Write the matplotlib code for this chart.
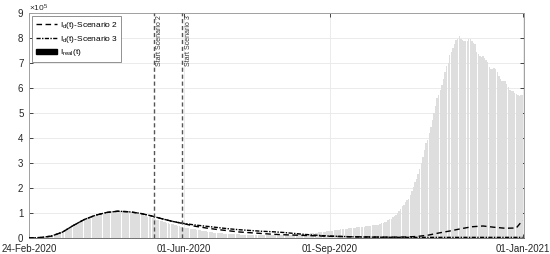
import numpy as np
import pandas as pd
import matplotlib
matplotlib.use("Agg")
from matplotlib import pyplot as plt
import matplotlib.dates as mdates
from matplotlib.lines import Line2D
from matplotlib.patches import Patch

plt.rcParams['font.family'] = ['Liberation Sans', 'DejaVu Sans']
plt.rcParams['mathtext.fontset'] = 'custom'
plt.rcParams['mathtext.rm'] = 'Liberation Sans'
plt.rcParams['mathtext.it'] = 'Liberation Sans:italic'

# I_real(t), daily active cases in thousands, 24-Feb-2020 .. 01-Jan-2021
real_feb = [0.2, 0.3, 0.4, 0.5, 0.9, 1.0]
real_mar = [1.6, 1.8, 2.3, 2.7, 3.1, 3.9, 5.1, 6.4, 7.4, 8.5, 10.6, 12.8, 14.9, 18.0, 20.6, 23.1,
            26.1, 28.7, 33.2, 37.9, 42.7, 46.6, 50.4, 54.0, 57.5, 62.0, 66.4, 70.1, 73.9, 75.5, 77.6]
real_apr = [80.6, 83.0, 85.4, 88.3, 91.2, 93.2, 94.1, 95.3, 96.9, 98.3, 100.3, 102.3, 103.6, 104.3, 105.4,
            106.6, 106.9, 108.0, 108.3, 108.2, 107.7, 107.7, 106.8, 106.5, 105.8, 106.1, 105.2, 105.2, 104.7, 101.6]
real_may = [100.9, 100.2, 100.2, 99.0, 98.5, 91.5, 89.6, 87.9, 84.8, 83.3, 82.5, 81.3, 78.5, 76.4, 72.1, 70.2,
            68.4, 66.6, 65.1, 62.8, 60.9, 59.3, 57.8, 56.6, 55.3, 52.9, 50.9, 47.9, 47.0, 43.7, 42.1]
real_jun = [41.4, 40.0, 39.3, 39.0, 37.0, 35.9, 35.3, 34.7, 32.9, 31.7, 30.6, 29.2, 28.0, 27.5, 26.3,
            25.9, 24.6, 23.1, 22.4, 21.0, 20.6, 20.2, 19.6, 18.7, 18.3, 17.6, 17.0, 16.8, 16.5, 15.6]
real_jul = [15.3, 15.1, 14.9, 14.6, 14.6, 14.2, 13.6, 13.5, 13.4, 13.3, 13.2, 13.2, 13.2, 13.0, 12.5, 12.4,
            12.5, 12.4, 12.3, 12.2, 12.4, 12.4, 12.3, 12.3, 12.5, 12.6, 12.6, 12.3, 12.2, 12.4, 12.6]
real_aug = [12.5, 12.6, 12.5, 12.5, 12.6, 13.3, 13.2, 13.8, 14.1, 14.1, 14.4, 14.6, 14.9, 15.1, 15.4, 16.0,
            16.7, 17.0, 17.5, 18.4, 19.1, 19.7, 20.8, 21.6, 22.7, 23.0, 24.0, 24.9, 25.0, 26.0, 26.8]
real_sep = [27.8, 28.8, 29.8, 30.1, 30.8, 32.0, 33.8, 34.8, 35.4, 35.7, 36.8, 37.4, 38.8, 39.7, 39.7,
            41.4, 41.8, 42.5, 43.2, 43.8, 44.1, 45.4, 45.5, 46.2, 46.1, 47.0, 48.6, 50.1, 51.3, 51.3]
real_oct = [51.3, 53.6, 55.5, 58.9, 60.1, 62.6, 65.0, 70.1, 74.8, 77.5, 83.0, 87.2, 93.3, 99.3, 106.8, 116.9,
            126.2, 132.9, 142.7, 150.0, 155.9, 170.1, 186.0, 202.0, 222.2, 236.7, 255.1, 276.5, 299.2, 325.8, 351.4]
real_nov = [378.1, 390.3, 418.1, 443.2, 472.3, 499.0, 527.0, 558.6, 573.1, 590.1, 613.4, 635.1, 663.5, 688.4, 701.8,
            733.8, 743.2, 760.7, 776.1, 791.7, 795.7, 805.9, 796.8, 790.4, 789.3, 788.5, 786.3, 796.0, 795.8, 788.0]
real_dec = [781.7, 777.2, 745.7, 737.5, 726.4, 722.9, 727.4, 720.7, 712.7, 705.2, 684.9, 675.1, 674.8, 679.2, 675.1,
            663.9, 647.0, 636.4, 627.7, 627.9, 629.0, 614.7, 603.2, 591.1, 589.5, 587.6, 579.1, 575.7, 572.4, 568.7, 570.0]
real_jan = [570.0]

# I_d(t) model curves, weekly, in thousands
model_dates = ['2020-02-24', '2020-03-02', '2020-03-09', '2020-03-16', '2020-03-23', '2020-03-30',
               '2020-04-06', '2020-04-13', '2020-04-20', '2020-04-27', '2020-05-04', '2020-05-11',
               '2020-05-18', '2020-05-25', '2020-06-01', '2020-06-08', '2020-06-15', '2020-06-22',
               '2020-06-29', '2020-07-06', '2020-07-13', '2020-07-20', '2020-07-27', '2020-08-03',
               '2020-08-10', '2020-08-17', '2020-08-24', '2020-08-31', '2020-09-07', '2020-09-14',
               '2020-09-21', '2020-09-28', '2020-10-05', '2020-10-12', '2020-10-19', '2020-10-26',
               '2020-11-02', '2020-11-09', '2020-11-16', '2020-11-23', '2020-11-30', '2020-12-07',
               '2020-12-14', '2020-12-21', '2020-12-28', '2021-01-01']
scen2 = [0.2, 1.8, 7.4, 23, 50, 74, 91, 102, 107, 105, 99, 89, 77, 66, 57, 47, 40, 34, 29, 24, 21, 18, 15,
         13, 11.5, 10, 8.5, 7, 6, 5, 4.5, 4, 3.5, 3.5, 4, 6, 11, 20, 28, 37, 45, 48, 43, 39, 40, 70]
scen3 = [0.2, 1.8, 7.4, 23, 50, 74, 91, 102, 107, 105, 99, 89, 77, 66, 58, 52, 47, 42, 37, 33, 30, 27, 25,
         22, 18, 14, 11, 8, 6.5, 5, 4, 3.5, 3, 2.8, 2.6, 2.5, 2.5, 2.5, 2.5, 2.5, 2.5, 2.5, 2.5, 2.5, 2.5, 2.5]

start_s2 = '2020-05-13'
start_s3 = '2020-05-31'

real = np.array(real_feb + real_mar + real_apr + real_may + real_jun + real_jul + real_aug +
                real_sep + real_oct + real_nov + real_dec + real_jan)
days = pd.date_range('2020-02-24', periods=len(real), freq='D')
mdays = pd.to_datetime(model_dates)

fig = plt.figure(figsize=(5.5, 2.54), dpi=100)
ax = fig.add_axes([0.0527, 0.063, 0.9003, 0.886])

ax.bar(days, real / 100, width=0.88, color='#dedede', linewidth=0, zorder=2)
ax.plot(mdays, np.array(scen2) / 100, color='black', ls=(0, (4, 2.5)), lw=1.0, zorder=3)
ax.plot(mdays, np.array(scen3) / 100, color='black', ls=(0, (3, 1, 1, 1)), lw=1.0, zorder=3)

for d, lab in [(start_s2, 'Start Scenario 2'), (start_s3, 'Start Scenario 3')]:
    x = pd.Timestamp(d)
    ax.axvline(x, color='#555555', ls=(0, (3, 2)), lw=1.0, zorder=4)
    ax.text(x + pd.Timedelta(days=1.5), 8.9, lab, rotation=90, va='top', ha='left',
            fontsize=5, color='#333333')

ax.set_xlim(pd.Timestamp('2020-02-24'), pd.Timestamp('2021-01-02'))
ax.set_ylim(0, 9)
ax.set_yticks(range(10))
xt = pd.to_datetime(['2020-02-24', '2020-06-01', '2020-09-01', '2021-01-01'])
ax.set_xticks(xt)
ax.xaxis.set_major_formatter(mdates.DateFormatter('%d-%b-%Y'))
ax.tick_params(direction='in', top=True, right=True, length=3, width=0.6,
               labelsize=7, colors='#262626', pad=4)
ax.tick_params(axis='x', pad=4)
ax.grid(True, color='#e8e8e8', lw=0.6, zorder=0)
ax.set_axisbelow(True)
for s in ax.spines.values():
    s.set_color('#a0a0a0')
    s.set_linewidth(0.7)
ax.spines['bottom'].set_color('#707070')

ax.text(0.0, 0.995, r'$\times10^{5}$', transform=ax.transAxes, fontsize=6,
        color='#262626', ha='left', va='bottom')

handles = [Line2D([], [], color='black', ls=(0, (4, 2.5)), lw=1.0),
           Line2D([], [], color='black', ls=(0, (3, 1, 1, 1)), lw=1.0),
           Patch(facecolor='black', edgecolor='black')]
labels = [r'I$_\mathrm{d}$(t)-Scenario 2', r'I$_\mathrm{d}$(t)-Scenario 3', r'I$_\mathrm{real}$(t)']
leg = ax.legend(handles, labels, loc='upper left', fontsize=6, fancybox=False, framealpha=1,
                edgecolor='#808080', handlelength=2.6, borderpad=0.4, labelspacing=0.35,
                handletextpad=0.3, borderaxespad=0.4)
leg.get_frame().set_linewidth(0.6)

fig.savefig('out.png', dpi=100)
